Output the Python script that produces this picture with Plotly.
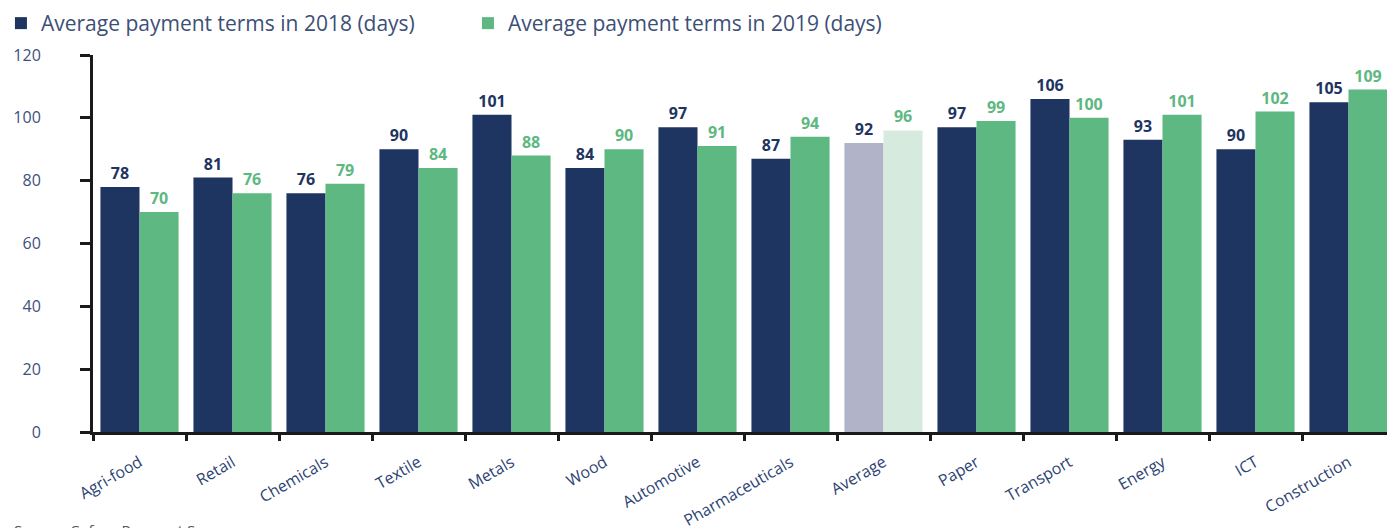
import plotly.graph_objects as go

categories = ["Agri-food", "Retail", "Chemicals", "Textile", "Metals", "Wood", "Automotive",
              "Pharmaceuticals", "Average", "Paper", "Transport", "Energy", "ICT", "Construction"]
terms_2018 = [78, 81, 76, 90, 101, 84, 97, 87, 92, 97, 106, 93, 90, 105]
terms_2019 = [70, 76, 79, 84, 88, 90, 91, 94, 96, 99, 100, 101, 102, 109]
y_ticks = [0, 20, 40, 60, 80, 100, 120]

NAVY = "#1e3461"
GREEN = "#5db881"
NAVY_LIGHT = "#b1b3c9"
GREEN_LIGHT = "#d6ebdd"

colors_2018 = [NAVY_LIGHT if c == "Average" else NAVY for c in categories]
colors_2019 = [GREEN_LIGHT if c == "Average" else GREEN for c in categories]

FONT = "Open Sans"

fig = go.Figure()
fig.add_trace(go.Bar(
    x=categories, y=terms_2018, name="Average payment terms in 2018 (days)",
    marker=dict(color=colors_2018, line=dict(width=0)),
    text=terms_2018, textposition="outside", cliponaxis=False,
    textfont=dict(family=FONT, size=16, color=NAVY, weight="bold"),
))
fig.add_trace(go.Bar(
    x=categories, y=terms_2019, name="Average payment terms in 2019 (days)",
    marker=dict(color=colors_2019, line=dict(width=0)),
    text=terms_2019, textposition="outside", cliponaxis=False,
    textfont=dict(family=FONT, size=16, color=GREEN, weight="bold"),
))

# page body has an 8px margin, so the figure is 8px smaller than the window
fig.update_layout(
    width=1387, height=520,
    margin=dict(l=85, r=0, t=47, b=96, autoexpand=False),
    paper_bgcolor="white", plot_bgcolor="white",
    barmode="group", bargap=0.16, bargroupgap=0,
    font=dict(family=FONT, color="#2d4373"),
    showlegend=True,
    legend=dict(
        orientation="h", xref="paper", yref="paper",
        x=-0.0707, y=1.138, xanchor="left", yanchor="top",
        font=dict(family=FONT, size=21, color="#3d4f77"),
        traceorder="normal", entrywidth=422, entrywidthmode="pixels",
    ),
    annotations=[dict(
        text="Source: Coface Payment Survey", xref="paper", yref="paper",
        x=-0.062, y=-0.228, xanchor="left", yanchor="top", showarrow=False,
        font=dict(family=FONT, size=15, color="#555555"),
    )],
)
fig.update_xaxes(
    showline=True, linecolor="#1a1a1a", linewidth=3,
    ticks="outside", tickson="boundaries", ticklen=6, tickwidth=3, tickcolor="#1a1a1a",
    tickangle=-30, tickfont=dict(family=FONT, size=16, color="#2d4373"),
    ticklabelstandoff=12,
    showgrid=False, zeroline=False, automargin=False,
)
fig.update_yaxes(
    range=[0, 120], tickvals=y_ticks,
    showline=True, linecolor="#1a1a1a", linewidth=3,
    ticks="outside", ticklen=10, tickwidth=3, tickcolor="#1a1a1a",
    tickfont=dict(family=FONT, size=16, color="#3d5080"),
    ticklabelstandoff=36,
    showgrid=False, zeroline=False, automargin=False,
)

fig.write_html("out.html")
